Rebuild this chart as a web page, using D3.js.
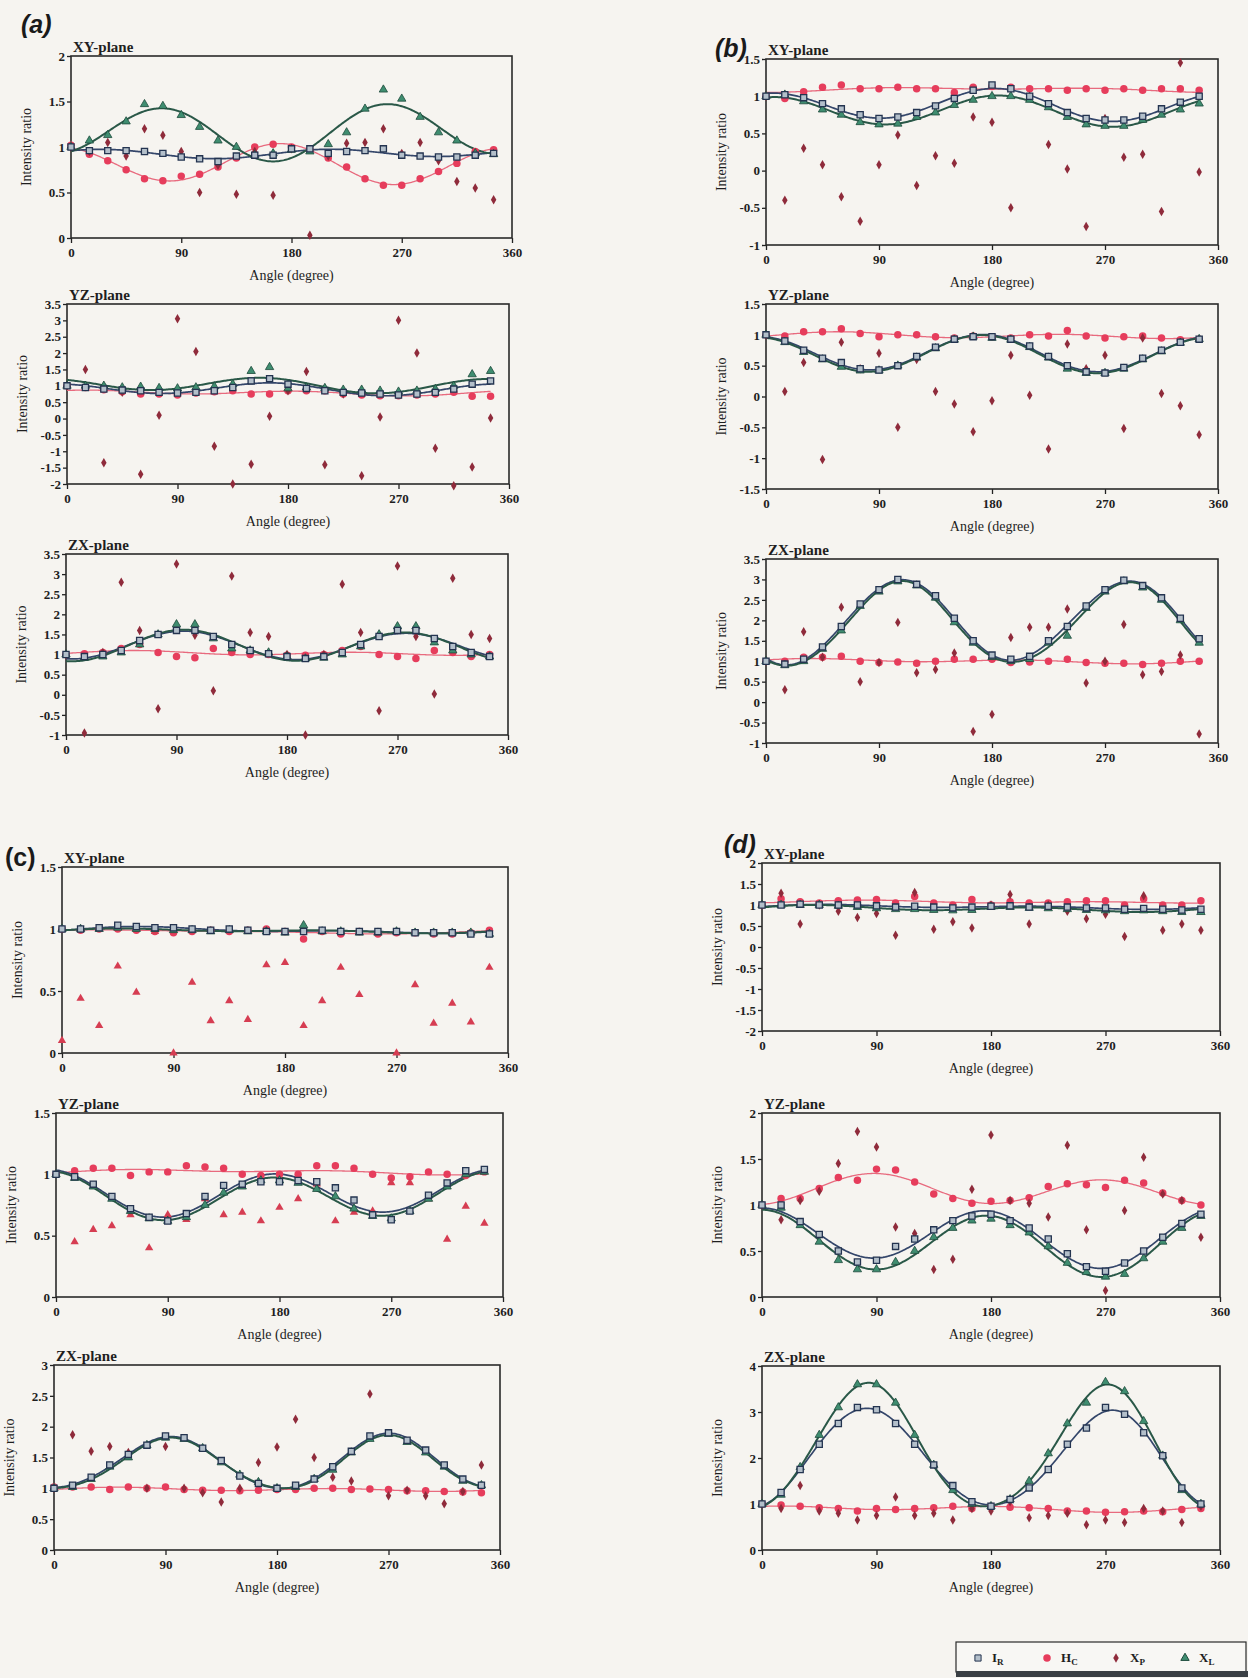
<!DOCTYPE html>
<html>
<head>
<meta charset="utf-8">
<script src="https://cdn.jsdelivr.net/npm/d3@7"></script>
<style>
  html, body { margin: 0; padding: 0; background: #f6f4f0; }
  svg { display: block; }
</style>
</head>
<body>
<svg id="fig" width="1248" height="1678"></svg>
<script>
// Measurement angles (degrees) and x-axis ticks shared by every panel
const angles = d3.range(0, 360, 15);
const xTickValues = [0, 90, 180, 270, 360];

// ---------- (a) ----------
const aXY_IR = [1.0,0.96,0.96,0.96,0.95,0.93,0.89,0.87,0.84,0.9,0.91,0.91,0.98,0.98,0.93,0.95,0.96,0.98,0.91,0.9,0.89,0.89,0.91,0.93];
const aXY_HC = [1.02,0.92,0.85,0.75,0.65,0.63,0.68,0.7,0.78,0.88,1.0,1.03,1.0,0.97,0.88,0.78,0.65,0.58,0.58,0.65,0.73,0.82,0.95,0.97];
const aXY_XP = [1.0,0.95,1.05,0.9,1.2,1.13,0.95,0.5,0.8,0.48,0.95,0.47,0.98,0.03,0.9,1.04,1.05,1.2,0.93,1.05,0.85,0.62,0.55,0.42];
const aXY_XL = [1.0,1.07,1.13,1.28,1.47,1.45,1.35,1.22,1.07,1.0,0.91,0.93,0.97,0.95,1.03,1.16,1.42,1.63,1.53,1.33,1.16,1.07,0.93,0.92];
const aXY_yTicks = [0, 0.5, 1, 1.5, 2];

const aYZ_IR = [1.0,0.95,0.9,0.87,0.85,0.8,0.78,0.8,0.85,0.95,1.15,1.22,1.05,0.92,0.85,0.8,0.78,0.75,0.72,0.75,0.8,0.9,1.05,1.15];
const aYZ_HC = [1.0,0.95,0.88,0.82,0.75,0.75,0.72,0.78,0.82,0.85,0.75,0.75,0.85,0.85,0.85,0.75,0.72,0.7,0.7,0.72,0.75,0.8,0.68,0.68];
const aYZ_XP = [1.0,1.5,-1.35,0.8,-1.7,0.1,3.05,2.05,-0.85,-2.0,-1.4,0.07,0.85,1.44,-1.41,0.75,-1.75,0.05,3.0,2.0,-0.91,-2.05,-1.48,0.02];
const aYZ_XL = [1.0,1.0,1.0,0.95,0.97,0.93,0.92,0.95,0.98,1.05,1.45,1.57,0.92,0.95,0.93,0.88,0.88,0.85,0.82,0.85,0.9,1.0,1.35,1.45];
const aYZ_yTicks = [-2, -1.5, -1, -0.5, 0, 0.5, 1, 1.5, 2, 2.5, 3, 3.5];

const aZX_IR = [1.0,0.95,1.0,1.1,1.35,1.5,1.6,1.6,1.45,1.25,1.1,1.02,0.95,0.9,0.95,1.05,1.25,1.45,1.6,1.6,1.4,1.2,1.05,0.95];
const aZX_HC = [1.0,1.02,1.05,1.15,1.25,1.05,0.95,0.92,1.15,1.05,1.0,1.0,0.98,0.98,1.0,1.1,1.2,1.0,0.95,0.9,1.1,1.05,0.95,1.0];
const aZX_XP = [1.0,-0.95,1.05,2.8,1.6,-0.35,3.25,1.48,0.1,2.95,1.55,1.45,1.0,-1.0,1.0,2.75,1.55,-0.4,3.2,1.45,0.02,2.9,1.5,1.4];
const aZX_XL = [1.0,0.92,0.95,1.05,1.25,1.5,1.75,1.75,1.4,1.15,1.1,1.05,0.95,0.9,0.92,1.0,1.2,1.5,1.7,1.7,1.3,1.1,1.0,0.95];
const aZX_yTicks = [-1, -0.5, 0, 0.5, 1, 1.5, 2, 2.5, 3, 3.5];

// ---------- (b) ----------
const bXY_IR = [1.0,1.02,0.98,0.9,0.83,0.75,0.7,0.72,0.78,0.87,0.97,1.08,1.15,1.1,1.0,0.9,0.78,0.7,0.68,0.68,0.73,0.83,0.92,1.0];
const bXY_HC = [1.0,0.97,1.06,1.12,1.15,1.1,1.1,1.12,1.1,1.1,1.05,1.12,1.13,1.12,1.1,1.1,1.08,1.1,1.08,1.1,1.08,1.1,1.1,1.08];
const bXY_XP = [1.0,-0.4,0.3,0.08,-0.35,-0.68,0.08,0.48,-0.2,0.2,0.1,0.72,0.65,-0.5,1.0,0.35,0.02,-0.75,0.7,0.18,0.22,-0.55,1.45,-0.02];
const bXY_XL = [1.0,1.02,0.93,0.82,0.75,0.65,0.62,0.63,0.72,0.78,0.88,0.95,1.0,1.0,0.95,0.85,0.72,0.62,0.6,0.6,0.68,0.75,0.82,0.9];
const bXY_yTicks = [-1, -0.5, 0, 0.5, 1, 1.5];

const bYZ_IR = [1.0,0.9,0.75,0.62,0.55,0.45,0.43,0.5,0.65,0.8,0.93,0.97,0.97,0.93,0.82,0.65,0.5,0.4,0.38,0.47,0.62,0.75,0.88,0.93];
const bYZ_HC = [1.0,0.98,1.05,1.05,1.1,1.02,0.97,1.0,1.0,0.97,0.95,0.98,0.97,0.95,1.0,0.98,1.07,0.98,0.95,0.97,0.98,0.95,0.92,0.93];
const bYZ_XP = [1.0,0.08,0.55,-1.02,0.88,0.45,0.7,-0.5,0.6,0.08,-0.12,-0.57,-0.07,0.67,0.02,-0.85,0.85,0.45,0.67,-0.52,0.95,0.05,-0.15,-0.62];
const bYZ_XL = [1.0,0.88,0.72,0.6,0.48,0.42,0.42,0.5,0.63,0.78,0.92,0.97,0.95,0.92,0.8,0.63,0.45,0.38,0.38,0.45,0.6,0.73,0.87,0.93];
const bYZ_yTicks = [-1.5, -1, -0.5, 0, 0.5, 1, 1.5];

const bZX_IR = [1.0,0.93,1.05,1.35,1.85,2.4,2.75,3.0,2.88,2.6,2.05,1.5,1.15,1.05,1.12,1.5,1.85,2.35,2.75,2.98,2.85,2.55,2.05,1.55];
const bZX_HC = [1.0,1.0,1.1,1.1,1.12,1.0,0.97,0.98,0.95,1.0,1.05,1.05,1.05,0.97,0.98,1.0,1.05,0.97,0.95,0.95,0.92,0.95,1.0,1.0];
const bZX_XP = [1.0,0.3,1.72,1.1,2.32,0.5,0.97,1.95,0.72,0.8,1.2,-0.72,-0.3,1.58,1.83,1.83,2.28,0.47,1.0,1.9,0.67,0.75,1.15,-0.78];
const bZX_XL = [1.0,0.9,1.0,1.3,1.75,2.35,2.7,2.95,2.85,2.55,1.95,1.45,1.1,1.0,1.05,1.45,1.62,2.3,2.7,2.95,2.8,2.5,2.0,1.45];
const bZX_yTicks = [-1, -0.5, 0, 0.5, 1, 1.5, 2, 2.5, 3, 3.5];

// ---------- (c) ----------
const cXY_IR = [1.0,1.0,1.01,1.03,1.02,1.01,1.01,1.0,0.99,1.0,0.99,0.98,0.98,0.98,0.99,0.98,0.98,0.98,0.98,0.97,0.97,0.97,0.96,0.96];
const cXY_HC = [1.0,0.99,1.0,1.0,0.99,0.98,0.97,0.98,0.99,0.98,0.99,1.0,0.98,0.92,0.98,0.96,0.98,0.96,0.97,0.97,0.96,0.96,0.97,0.99];
const cXY_XP = [0.1,0.44,0.22,0.7,0.49,0.98,0.0,0.57,0.26,0.42,0.27,0.71,0.73,0.22,0.42,0.69,0.47,0.97,0.0,0.55,0.24,0.4,0.25,0.69];
const cXY_XL = [1.0,1.0,1.0,1.01,1.0,1.0,0.99,0.99,0.98,0.99,0.98,0.98,0.97,1.03,0.98,0.98,0.97,0.97,0.98,0.97,0.97,0.97,0.97,0.96];
const cXY_yTicks = [0, 0.5, 1, 1.5];

const cYZ_IR = [1.0,0.98,0.92,0.82,0.72,0.65,0.62,0.68,0.82,0.91,0.92,0.94,0.94,0.95,0.94,0.89,0.79,0.67,0.63,0.7,0.83,0.93,1.03,1.04];
const cYZ_HC = [1.0,1.03,1.05,1.05,0.99,1.02,1.02,1.07,1.06,1.05,1.0,0.99,1.0,1.0,1.07,1.07,1.05,1.0,0.97,0.98,1.02,1.0,0.99,1.02];
const cYZ_XP = [1.0,0.45,0.55,0.58,0.67,0.4,0.67,0.63,0.8,0.67,0.69,0.62,0.73,0.8,0.92,0.62,0.69,0.7,0.93,0.93,0.8,0.47,0.74,0.6];
const cYZ_XL = [1.0,0.97,0.9,0.8,0.7,0.64,0.62,0.65,0.75,0.85,0.9,0.95,0.95,0.93,0.88,0.82,0.72,0.66,0.64,0.7,0.8,0.9,1.0,1.02];
const cYZ_yTicks = [0, 0.5, 1, 1.5];

const cZX_IR = [1.0,1.05,1.18,1.38,1.55,1.7,1.85,1.82,1.65,1.45,1.2,1.08,1.0,1.05,1.15,1.35,1.6,1.85,1.9,1.78,1.62,1.38,1.15,1.05];
const cZX_HC = [1.02,1.02,1.02,0.98,1.02,1.0,1.02,0.98,0.97,0.97,0.96,0.97,0.98,0.98,1.0,1.0,0.98,0.99,0.98,0.96,0.96,0.95,0.94,0.93];
const cZX_XP = [1.0,1.87,1.6,1.68,1.58,1.0,1.68,1.0,0.93,0.78,1.0,1.42,1.67,2.12,1.5,1.18,1.12,2.53,0.88,0.97,0.88,0.75,0.95,1.38];
const cZX_XL = [1.0,1.02,1.15,1.35,1.5,1.7,1.82,1.8,1.65,1.42,1.22,1.1,1.0,1.02,1.15,1.3,1.58,1.8,1.88,1.75,1.58,1.35,1.12,1.05];
const cZX_yTicks = [0, 0.5, 1, 1.5, 2, 2.5, 3];

// ---------- (d) ----------
const dXY_IR = [1.0,1.0,1.02,1.0,1.0,1.0,0.98,0.95,0.97,0.95,0.93,0.95,0.97,0.98,0.95,0.97,0.95,0.93,0.93,0.9,0.92,0.9,0.88,0.9];
const dXY_HC = [1.0,1.15,1.08,1.05,1.1,1.12,1.13,1.05,1.2,1.05,1.0,1.13,1.0,1.08,1.05,1.05,1.08,1.1,1.1,1.0,1.15,1.0,1.0,1.1];
const dXY_XP = [1.0,1.28,0.55,1.0,0.85,0.7,0.8,0.28,1.3,0.42,0.6,0.45,1.0,1.25,0.55,1.0,0.85,0.67,0.78,0.25,1.22,0.4,0.55,0.4];
const dXY_XL = [1.0,1.0,1.0,1.0,0.98,0.95,0.92,0.9,0.9,0.88,0.87,0.88,0.95,0.95,0.93,0.92,0.9,0.88,0.87,0.85,0.87,0.85,0.83,0.83];
const dXY_yTicks = [-2, -1.5, -1, -0.5, 0, 0.5, 1, 1.5, 2];

const dYZ_IR = [1.0,1.0,0.82,0.68,0.5,0.38,0.4,0.55,0.63,0.73,0.83,0.88,0.9,0.83,0.75,0.63,0.47,0.33,0.28,0.37,0.5,0.65,0.8,0.9];
const dYZ_HC = [1.0,1.07,1.07,1.18,1.3,1.27,1.39,1.38,1.25,1.12,1.07,1.02,1.04,1.05,1.08,1.2,1.23,1.22,1.19,1.27,1.24,1.13,1.05,1.0];
const dYZ_XP = [1.0,0.84,1.05,1.15,1.45,1.8,1.63,0.76,0.69,0.3,0.41,1.17,1.76,1.05,1.02,0.87,1.65,0.73,0.07,0.94,1.52,1.12,1.05,0.65];
const dYZ_XL = [1.0,0.97,0.78,0.6,0.4,0.3,0.3,0.38,0.5,0.65,0.75,0.83,0.85,0.78,0.7,0.55,0.37,0.27,0.22,0.25,0.42,0.6,0.75,0.88];
const dYZ_yTicks = [0, 0.5, 1, 1.5, 2];

const dZX_IR = [1.0,1.25,1.75,2.3,2.75,3.1,3.05,2.75,2.3,1.85,1.4,1.05,0.95,1.1,1.35,1.75,2.3,2.65,3.1,2.95,2.55,2.05,1.35,1.0];
const dZX_HC = [1.0,0.98,0.95,0.92,0.9,0.85,0.9,0.88,0.9,0.92,0.95,0.9,0.95,0.93,0.92,0.9,0.85,0.85,0.82,0.83,0.85,0.83,0.88,0.9];
const dZX_XP = [1.0,0.9,1.4,0.85,0.8,0.65,0.75,1.15,0.75,0.8,0.65,0.9,0.85,1.05,0.7,0.75,0.8,0.55,0.65,0.6,0.9,0.85,0.6,0.95];
const dZX_XL = [1.0,1.2,1.8,2.5,3.1,3.6,3.6,3.2,2.5,1.85,1.3,1.0,0.95,1.1,1.5,2.1,2.75,3.2,3.65,3.45,2.8,2.05,1.3,1.0];
const dZX_yTicks = [0, 1, 2, 3, 4];

// Legend entries
const legendKeys = ["IR", "HC", "XP", "XL"];
const legendMain = { IR: "I", HC: "H", XP: "X", XL: "X" };
const legendSub  = { IR: "R", HC: "C", XP: "P", XL: "L" };

// ---------- layout (plot frames: left, top, right, bottom; fit order for I_R / X_L curves) ----------
const panels = [
  { letter: "(a)", plane: "XY-plane", box: [71, 56, 512, 238],   ticks: aXY_yTicks, IR: aXY_IR, HC: aXY_HC, XP: aXY_XP, XL: aXY_XL, xp: "diamond", fit: 2 },
  { plane: "YZ-plane", box: [67, 304, 509, 484],                  ticks: aYZ_yTicks, IR: aYZ_IR, HC: aYZ_HC, XP: aYZ_XP, XL: aYZ_XL, xp: "diamond", fit: 2 },
  { plane: "ZX-plane", box: [66, 554, 508, 735],                  ticks: aZX_yTicks, IR: aZX_IR, HC: aZX_HC, XP: aZX_XP, XL: aZX_XL, xp: "diamond", fit: 2 },
  { letter: "(b)", plane: "XY-plane", box: [766, 59, 1218, 245], ticks: bXY_yTicks, IR: bXY_IR, HC: bXY_HC, XP: bXY_XP, XL: bXY_XL, xp: "diamond", fit: 2 },
  { plane: "YZ-plane", box: [766, 304, 1218, 489],                ticks: bYZ_yTicks, IR: bYZ_IR, HC: bYZ_HC, XP: bYZ_XP, XL: bYZ_XL, xp: "diamond", fit: 2 },
  { plane: "ZX-plane", box: [766, 559, 1218, 743],                ticks: bZX_yTicks, IR: bZX_IR, HC: bZX_HC, XP: bZX_XP, XL: bZX_XL, xp: "diamond", fit: 4 },
  { letter: "(c)", plane: "XY-plane", box: [62, 867, 508, 1053], ticks: cXY_yTicks, IR: cXY_IR, HC: cXY_HC, XP: cXY_XP, XL: cXY_XL, xp: "triangle", fit: 2 },
  { plane: "YZ-plane", box: [56, 1113, 503, 1297],                ticks: cYZ_yTicks, IR: cYZ_IR, HC: cYZ_HC, XP: cYZ_XP, XL: cYZ_XL, xp: "triangle", fit: 2 },
  { plane: "ZX-plane", box: [54, 1365, 500, 1550],                ticks: cZX_yTicks, IR: cZX_IR, HC: cZX_HC, XP: cZX_XP, XL: cZX_XL, xp: "diamond", fit: 4 },
  { letter: "(d)", plane: "XY-plane", box: [762, 863, 1220, 1031], ticks: dXY_yTicks, IR: dXY_IR, HC: dXY_HC, XP: dXY_XP, XL: dXY_XL, xp: "diamond", fit: 2 },
  { plane: "YZ-plane", box: [762, 1113, 1220, 1297],              ticks: dYZ_yTicks, IR: dYZ_IR, HC: dYZ_HC, XP: dYZ_XP, XL: dYZ_XL, xp: "diamond", fit: 2 },
  { plane: "ZX-plane", box: [762, 1366, 1220, 1550],              ticks: dZX_yTicks, IR: dZX_IR, HC: dZX_HC, XP: dZX_XP, XL: dZX_XL, xp: "diamond", fit: 4 }
];
const letterPos = { "(a)": [21, 33, true], "(b)": [715, 57, true], "(c)": [5, 866, false], "(d)": [724, 853, true] };

// ---------- styles ----------
const SERIF = "'Liberation Serif', 'Times New Roman', serif";
const style = {
  IR: { fill: "#b3bfca", stroke: "#243450", line: "#34466a", lw: 1.7 },
  XL: { fill: "#3f8d70", stroke: "#1d4a3b", line: "#2a5848", lw: 2.0 },
  HC: { fill: "#e63d5c", stroke: "none",    line: "#e86a7e", lw: 1.3 },
  XP: { fill: "#8f2b3b", stroke: "none" },
  XPtri: { fill: "#d63d52", stroke: "none" }
};
const sym = {
  square: d3.symbol().type(d3.symbolSquare).size(38),
  circle: d3.symbol().type(d3.symbolCircle).size(44),
  diamond: d3.symbol().type(d3.symbolDiamond).size(26),
  triangle: d3.symbol().type(d3.symbolTriangle).size(30)
};

// Least-squares Fourier-series fit of a series sampled over angle
function harmonicFit(xs, ys, order) {
  const basis = deg => {
    const t = deg * Math.PI / 180, r = [1];
    for (let k = 1; k <= order; k++) r.push(Math.cos(k * t), Math.sin(k * t));
    return r;
  };
  const n = 1 + 2 * order;
  const A = Array.from({ length: n }, () => new Array(n).fill(0));
  const b = new Array(n).fill(0);
  xs.forEach((xv, i) => {
    const f = basis(xv);
    for (let p = 0; p < n; p++) {
      b[p] += f[p] * ys[i];
      for (let q = 0; q < n; q++) A[p][q] += f[p] * f[q];
    }
  });
  for (let c = 0; c < n; c++) {
    let piv = c;
    for (let r = c + 1; r < n; r++) if (Math.abs(A[r][c]) > Math.abs(A[piv][c])) piv = r;
    [A[c], A[piv]] = [A[piv], A[c]]; [b[c], b[piv]] = [b[piv], b[c]];
    for (let r = c + 1; r < n; r++) {
      const m = A[r][c] / A[c][c];
      for (let q = c; q < n; q++) A[r][q] -= m * A[c][q];
      b[r] -= m * b[c];
    }
  }
  const coef = new Array(n).fill(0);
  for (let r = n - 1; r >= 0; r--) {
    let s = b[r];
    for (let q = r + 1; q < n; q++) s -= A[r][q] * coef[q];
    coef[r] = s / A[r][r];
  }
  return deg => d3.sum(basis(deg), (v, i) => v * coef[i]);
}
const fitAngles = d3.range(0, 346, 1);

const svg = d3.select("#fig");
svg.append("rect").attr("width", 1248).attr("height", 1678).attr("fill", "#f6f4f0");

function drawPanel(p) {
  const [L, T, R, B] = p.box;
  const x = d3.scaleLinear().domain([0, 360]).range([L, R]);
  const y = d3.scaleLinear().domain([p.ticks[0], p.ticks[p.ticks.length - 1]]).range([B, T]);
  const g = svg.append("g");

  // axes
  const ya = g.append("g").attr("transform", `translate(${L},0)`)
    .call(d3.axisLeft(y).tickValues(p.ticks).tickFormat(v => String(v)).tickSize(4).tickPadding(2));
  const xa = g.append("g").attr("transform", `translate(0,${B})`)
    .call(d3.axisBottom(x).tickValues(xTickValues).tickFormat(v => String(v)).tickSize(5).tickPadding(5));
  [ya, xa].forEach(a => {
    a.select(".domain").remove();
    a.selectAll("line").attr("stroke", "#222").attr("stroke-width", 1.3);
    a.selectAll("text").attr("fill", "#1e1e1e").style("font-family", SERIF)
      .style("font-size", "13px").style("font-weight", "bold");
  });

  // frame
  g.append("rect").attr("x", L).attr("y", T).attr("width", R - L).attr("height", B - T)
    .attr("fill", "none").attr("stroke", "#2a2a2a").attr("stroke-width", 1.6);

  // titles
  g.append("text").attr("x", L + 2).attr("y", T - 4).text(p.plane)
    .style("font-family", SERIF).style("font-size", "15px").style("font-weight", "bold").attr("fill", "#1e1e1e");
  g.append("text").attr("x", (L + R) / 2).attr("y", B + 42).attr("text-anchor", "middle").text("Angle (degree)")
    .style("font-family", SERIF).style("font-size", "14px").attr("fill", "#1e1e1e");
  g.append("text").attr("transform", `translate(${L - 40},${(T + B) / 2}) rotate(-90)`)
    .attr("text-anchor", "middle").text("Intensity  ratio")
    .style("font-family", SERIF).style("font-size", "14px").attr("fill", "#1e1e1e");

  // fitted curves
  const line = d3.line().x(d => x(d[0])).y(d => y(d[1]));
  ["HC", "IR", "XL"].forEach(k => {
    const f = harmonicFit(angles, p[k], k === "HC" ? 2 : p.fit);
    g.append("path").datum(fitAngles.map(a => [a, f(a)]))
      .attr("d", line).attr("fill", "none").attr("stroke", style[k].line).attr("stroke-width", style[k].lw);
  });

  // data markers
  const pts = (vals) => vals.map((v, i) => ({ a: angles[i], v }));
  const xpStyle = p.xp === "triangle" ? style.XPtri : style.XP;
  g.append("g").selectAll("path").data(pts(p.HC)).join("path")
    .attr("d", sym.circle).attr("transform", d => `translate(${x(d.a)},${y(d.v)})`)
    .attr("fill", style.HC.fill);
  g.append("g").selectAll("path").data(pts(p.XP)).join("path")
    .attr("d", sym[p.xp]).attr("transform", d => `translate(${x(d.a)},${y(d.v)})`)
    .attr("fill", xpStyle.fill);
  g.append("g").selectAll("path").data(pts(p.XL)).join("path")
    .attr("d", sym.triangle).attr("transform", d => `translate(${x(d.a)},${y(d.v)})`)
    .attr("fill", style.XL.fill).attr("stroke", style.XL.stroke).attr("stroke-width", 0.8);
  g.append("g").selectAll("path").data(pts(p.IR)).join("path")
    .attr("d", sym.square).attr("transform", d => `translate(${x(d.a)},${y(d.v)})`)
    .attr("fill", style.IR.fill).attr("stroke", style.IR.stroke).attr("stroke-width", 1.3);

  if (p.letter) {
    const [lx, ly, it] = letterPos[p.letter];
    svg.append("text").attr("x", lx).attr("y", ly).text(p.letter)
      .style("font-family", "'Liberation Sans', Arial, sans-serif").style("font-size", "25px")
      .style("font-style", it ? "italic" : "normal").style("font-weight", "bold").attr("fill", "#1a1a1a");
  }
}
panels.forEach(drawPanel);

// ---------- legend ----------
const lg = svg.append("g");
lg.append("rect").attr("x", 956).attr("y", 1642).attr("width", 290).attr("height", 30)
  .attr("fill", "#f8f7f4").attr("stroke", "#2a2a2a").attr("stroke-width", 1.2);
lg.append("rect").attr("x", 956).attr("y", 1671).attr("width", 292).attr("height", 6).attr("fill", "#3a3f44");
const lx = d3.scalePoint().domain(legendKeys).range([978, 1185]);
legendKeys.forEach(k => {
  const cx = lx(k), cy = 1658;
  const shape = k === "IR" ? "square" : k === "HC" ? "circle" : k === "XP" ? "diamond" : "triangle";
  const st = style[k];
  lg.append("path").attr("d", sym[shape]).attr("transform", `translate(${cx},${cy})`)
    .attr("fill", st.fill).attr("stroke", st.stroke === "none" ? null : st.stroke).attr("stroke-width", 1);
  const t = lg.append("text").attr("x", cx + 14).attr("y", cy + 4)
    .style("font-family", SERIF).style("font-size", "13px").style("font-weight", "bold").attr("fill", "#1e1e1e");
  t.append("tspan").text(legendMain[k]);
  t.append("tspan").attr("dy", 3).style("font-size", "9px").text(legendSub[k]);
});
</script>
</body>
</html>
